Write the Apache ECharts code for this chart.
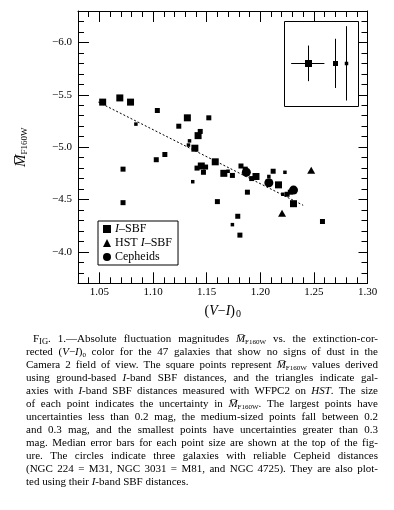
<!DOCTYPE html>
<html><head><meta charset="utf-8">
<script src="https://cdn.jsdelivr.net/npm/echarts@6/dist/echarts.min.js"></script>
<style>html,body{margin:0;padding:0;background:#fff}#c{width:394px;height:510px}</style>
</head><body><div id="c"></div>
<script>
// ---- data ----
const xTicks = [1.05, 1.10, 1.15, 1.20, 1.25, 1.30];
const yTicks = [-6.0, -5.5, -5.0, -4.5, -4.0];
const sbfX = [1.053,1.069,1.079,1.104,1.084,1.132,1.152,1.124,1.144,1.142,1.134,1.133,1.139,1.158,1.111,1.103,1.072,1.141,1.145,1.149,1.147,1.137,1.166,1.174,1.170,1.182,1.186,1.192,1.196,1.188,1.160,1.208,1.212,1.223,1.217,1.221,1.225,1.228,1.231,1.179,1.174,1.181,1.258,1.072];
const sbfY = [-5.43,-5.47,-5.43,-5.35,-5.22,-5.28,-5.28,-5.20,-5.15,-5.11,-5.06,-5.02,-4.99,-4.86,-4.93,-4.88,-4.79,-4.80,-4.82,-4.81,-4.76,-4.67,-4.75,-4.73,-4.77,-4.82,-4.79,-4.70,-4.72,-4.57,-4.48,-4.72,-4.77,-4.76,-4.64,-4.55,-4.55,-4.57,-4.46,-4.34,-4.26,-4.16,-4.29,-4.47];
const sbfErr = ['L','L','L','M','S','L','M','M','M','L','S','S','L','L','M','M','M','M','L','M','M','S','L','M','S','M','M','M','L','M','M','S','M','S','L','S','M','M','L','M','S','M','M','M'];
const hstX = [1.2475, 1.2203];
const hstY = [-4.78, -4.37];
const cephX = [1.187, 1.208, 1.231];
const cephY = [-4.76, -4.66, -4.59];
const fitX = [1.049, 1.240];
const fitY = [-5.43, -4.445];
const errX = [1.2443, 1.2697, 1.2797];
const errY = [-5.80, -5.80, -5.80];
const errYHalf = [0.17, 0.235, 0.355];
const errXHalf = [0.0155, 0, 0];
const errClass = ['L', 'M', 'S'];
const insetX = [1.2225, 1.2916];
const insetY = [-6.20, -5.39];
const legendNames = ['I–SBF', 'HST I–SBF', 'Cepheids'];
const captionLines = [
 '{n|F}{sc|IG}{n|. 1.—Absolute fluctuation magnitudes }{i|M̅}{sub|F160W}{n| vs. the extinction-cor-}',
 '{n|rected (}{i|V}{n|−}{i|I}{n|)}{sub|0}{n| color for the 47 galaxies that show no signs of dust in the}',
 '{n|Camera 2 field of view. The square points represent }{i|M̅}{sub|F160W}{n| values derived}',
 '{n|using ground-based }{i|I}{n|-band SBF distances, and the triangles indicate gal-}',
 '{n|axies with }{i|I}{n|-band SBF distances measured with WFPC2 on }{i|HST}{n|. The size}',
 '{n|of each point indicates the uncertainty in }{i|M̅}{sub|F160W}{n|. The largest points have}',
 '{n|uncertainties less than 0.2 mag, the medium-sized points fall between 0.2}',
 '{n|and 0.3 mag, and the smallest points have uncertainties greater than 0.3}',
 '{n|mag. Median error bars for each point size are shown at the top of the fig-}',
 '{n|ure. The circles indicate three galaxies with reliable Cepheid distances}',
 '{n|(NGC 224 = M31, NGC 3031 = M81, and NGC 4725). They are also plot-}',
 '{n|ted using their }{i|I}{n|-band SBF distances.}'
];

// ---- styles ----
const FONT = '"Liberation Serif","DejaVu Serif",serif';
const SIZE = {L: 7, M: 5, S: 3.5};
const BLACK = '#000';
const XMIN = 1.03, XMAX = 1.30, YMIN = -6.3, YMAX = -3.7;

function xAx(pos, major, labels, tickLen) {
  const a = {
    type: 'value', position: pos, min: XMIN, max: XMAX,
    splitLine: {show: false},
    axisLine: {show: !major, lineStyle: {color: BLACK, width: 1}},
    axisTick: {show: true, inside: true, length: tickLen, lineStyle: {color: BLACK, width: 1}},
    axisLabel: {show: false}
  };
  if (major) { a.axisTick.customValues = xTicks; a.axisLabel.customValues = xTicks; }
  else a.interval = 0.01;
  if (labels) {
    a.axisLabel = {show: true, customValues: xTicks, margin: 3, color: BLACK,
      fontFamily: FONT, fontSize: 11, formatter: v => v.toFixed(2)};
    a.name = '{p|(}{i|V}{p|−}{i|I}{p|)}{s|0}';
    a.nameLocation = 'middle'; a.nameGap = 20;
    a.nameTextStyle = {color: BLACK, fontFamily: FONT, rich: {
      p: {fontSize: 14, fontFamily: FONT, color: BLACK},
      i: {fontSize: 14, fontFamily: FONT, fontStyle: 'italic', color: BLACK},
      s: {fontSize: 10, fontFamily: FONT, color: BLACK, verticalAlign: 'bottom', padding: [6, 0, 0, 1]}
    }};
  }
  return a;
}
function yAx(pos, major, labels, tickLen) {
  const a = {
    type: 'value', position: pos, min: YMIN, max: YMAX, inverse: true,
    splitLine: {show: false},
    axisLine: {show: !major, lineStyle: {color: BLACK, width: 1}},
    axisTick: {show: true, inside: true, length: tickLen, lineStyle: {color: BLACK, width: 1}},
    axisLabel: {show: false}
  };
  if (major) { a.axisTick.customValues = yTicks; a.axisLabel.customValues = yTicks; }
  else a.interval = 0.1;
  if (labels) {
    a.axisLabel = {show: true, customValues: yTicks, margin: 6, color: BLACK,
      fontFamily: FONT, fontSize: 11, formatter: v => (v < 0 ? '−' : '') + Math.abs(v).toFixed(1)};
    a.name = '{m|M̅}{s|F160W}';
    a.nameLocation = 'middle'; a.nameGap = 49; a.nameRotate = 90;
    a.nameTextStyle = {color: BLACK, fontFamily: FONT, rich: {
      m: {fontSize: 15, fontFamily: FONT, fontStyle: 'italic', color: BLACK},
      s: {fontSize: 9, fontFamily: FONT, color: BLACK, verticalAlign: 'bottom', padding: [6, 0, 0, 0]}
    }};
  }
  return a;
}

const chart = echarts.init(document.getElementById('c'), null, {renderer: 'canvas'});

// ---- caption (justified lines) ----
const captionRich = {
  n: {fontSize: 11, fontFamily: FONT, lineHeight: 13, fill: BLACK},
  sc: {fontSize: 8.5, fontFamily: FONT, lineHeight: 13, fill: BLACK, verticalAlign: 'bottom'},
  i: {fontSize: 11, fontFamily: FONT, fontStyle: 'italic', lineHeight: 13, fill: BLACK},
  sub: {fontSize: 7, fontFamily: FONT, lineHeight: 13, fill: BLACK, verticalAlign: 'bottom'}
};
const mctx = document.createElement('canvas').getContext('2d');
function fontOf(st) { const r = captionRich[st]; return (r.fontStyle || 'normal') + ' ' + r.fontSize + 'px ' + FONT; }
function justify(line, target, last) {
  const segs = [...line.matchAll(/\{(\w+)\|([^}]*)\}/g)].map(m => ({s: m[1], t: m[2]}));
  let W = 0, nSp = 0;
  segs.forEach(g => { mctx.font = fontOf(g.s); W += mctx.measureText(g.t).width; nSp += (g.t.match(/ /g) || []).length; });
  mctx.font = fontOf('n');
  const spW = mctx.measureText(' ').width;
  const extra = (last || nSp === 0) ? 0 : Math.max(0, (target - W) / nSp);
  const rich = Object.assign({}, captionRich, {sp: {fontSize: 11, fontFamily: FONT, lineHeight: 13, fill: BLACK, width: spW + extra}});
  let out = '';
  segs.forEach(g => {
    g.t.split(' ').forEach((w, k) => { if (k > 0) out += '{sp| }'; if (w) out += '{' + g.s + '|' + w + '}'; });
  });
  return {text: out, rich};
}
const graphics = captionLines.map((t, i) => {
  const x0 = i === 0 ? 33 : 26;
  const j = justify(t, 378 - x0, i === captionLines.length - 1);
  return {
    type: 'text', x: x0, y: 339.5 + 13 * i,
    style: {text: j.text, rich: j.rich, fill: BLACK, font: '11px ' + FONT, verticalAlign: 'middle'}
  };
});

chart.setOption({
  animation: false,
  backgroundColor: '#fff',
  grid: {left: 78, right: 26.5, top: 11, bottom: 226.7, containLabel: false, outerBoundsMode: 'none'},
  xAxis: [xAx('bottom', false, true, 6), xAx('bottom', true, false, 11), xAx('top', false, false, 6), xAx('top', true, false, 11)],
  yAxis: [yAx('left', false, true, 6), yAx('left', true, false, 11), yAx('right', false, false, 6), yAx('right', true, false, 9)],
  legend: {
    data: [{name: legendNames[0], icon: 'rect'}, {name: legendNames[1], icon: 'triangle'}, {name: legendNames[2], icon: 'circle'}],
    orient: 'vertical', left: 98, top: 221, itemWidth: 8, itemHeight: 8, itemGap: 2,
    borderColor: BLACK, borderWidth: 1, borderRadius: 0, padding: [2, 6, 2, 5], selectedMode: false,
    formatter: name => name.replace(/I–SBF/, '{i|I}–SBF'),
    textStyle: {color: BLACK, fontFamily: FONT, fontSize: 12, padding: [0, 0, 0, -1],
      rich: {i: {fontFamily: FONT, fontSize: 12, fontStyle: 'italic', color: BLACK}}}
  },
  graphic: graphics,
  series: [
    {
      type: 'custom', name: 'inset', silent: true, z: 1,
      encode: {x: 0, y: 1},
      data: [[insetX[0], insetY[0], insetX[1], insetY[1]]],
      renderItem(params, api) {
        const p0 = api.coord([api.value(0), api.value(1)]);
        const p1 = api.coord([api.value(2), api.value(3)]);
        return {type: 'rect', shape: {x: Math.round(p0[0]) + 0.5, y: Math.round(p0[1]) + 0.5,
          width: Math.round(p1[0] - p0[0]), height: Math.round(p1[1] - p0[1])},
          style: {fill: null, stroke: BLACK, lineWidth: 1}};
      }
    },
    {
      type: 'custom', name: 'errbars', silent: true, z: 2,
      encode: {x: 0, y: 1},
      data: errX.map((x, i) => [x, errY[i], errYHalf[i], errXHalf[i], SIZE[errClass[i]]]),
      renderItem(params, api) {
        const x = api.value(0), y = api.value(1), dy = api.value(2), dx = api.value(3), s = api.value(4);
        const c = api.coord([x, y]);
        const t = api.coord([x, y - dy]), b = api.coord([x, y + dy]);
        const cx = Math.round(c[0]) + 0.5, cy = Math.round(c[1]) + 0.5;
        const ch = [{type: 'line', shape: {x1: cx, y1: t[1], x2: cx, y2: b[1]}, style: {stroke: BLACK, lineWidth: 1}}];
        if (dx > 0) {
          const l = api.coord([x - dx, y]), r = api.coord([x + dx, y]);
          ch.push({type: 'line', shape: {x1: l[0], y1: cy, x2: r[0], y2: cy}, style: {stroke: BLACK, lineWidth: 1}});
        }
        ch.push({type: 'rect', shape: {x: cx - s / 2, y: cy - s / 2, width: s, height: s}, style: {fill: BLACK}});
        return {type: 'group', children: ch};
      }
    },
    {
      type: 'line', name: 'fit', silent: true, showSymbol: false, symbol: 'none', z: 2,
      data: fitX.map((x, i) => [x, fitY[i]]),
      lineStyle: {color: BLACK, width: 1, type: [2, 2]}
    },
    {
      type: 'scatter', name: legendNames[0], symbol: 'rect', z: 3,
      data: sbfX.map((x, i) => [x, sbfY[i], SIZE[sbfErr[i]]]),
      symbolSize: v => v[2],
      itemStyle: {color: BLACK, opacity: 1}
    },
    {
      type: 'scatter', name: legendNames[1], symbol: 'triangle', symbolSize: [8, 7], z: 3,
      data: hstX.map((x, i) => [x, hstY[i]]),
      itemStyle: {color: BLACK, opacity: 1}
    },
    {
      type: 'scatter', name: legendNames[2], symbol: 'circle', symbolSize: 9, z: 4,
      data: cephX.map((x, i) => [x, cephY[i]]),
      itemStyle: {color: BLACK, opacity: 1}
    }
  ]
});
</script></body></html>
